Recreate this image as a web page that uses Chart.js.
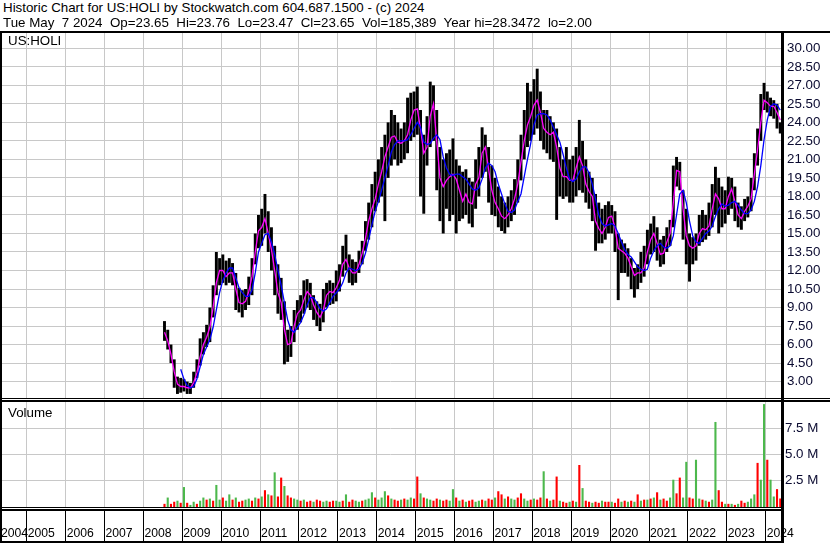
<!DOCTYPE html>
<html><head><meta charset="utf-8">
<script src="https://cdn.jsdelivr.net/npm/chart.js@4.4.1/dist/chart.umd.min.js"></script>
<style>
html,body{margin:0;padding:0;background:#fff;}
#root{position:relative;width:830px;height:543px;overflow:hidden;background:#fff;font-family:"Liberation Sans",Arial,sans-serif;}
.t{position:absolute;white-space:pre;font-size:13.33px;line-height:15px;color:#000;}
.ln{position:absolute;background:#000;}
canvas{position:absolute;left:0;}
</style></head>
<body><div id="root">
<canvas id="pc" width="830" height="365" style="top:33px;width:830px;height:365px"></canvas>
<canvas id="vc" width="830" height="141" style="top:402px;width:830px;height:141px"></canvas>
<div class="t" style="left:3px;top:0px">Historic Chart for US:HOLI by Stockwatch.com 604.687.1500 - (c) 2024</div>
<div class="t" style="left:3px;top:15px">Tue May  7 2024  Op=23.65  Hi=23.76  Lo=23.47  Cl=23.65  Vol=185,389  Year hi=28.3472  lo=2.00</div>
<div class="t" style="left:8px;top:33px">US:HOLI</div>
<div class="t" style="left:8px;top:405px">Volume</div>
<div class="ln" style="left:0;top:31px;width:830px;height:2px"></div>
<div class="ln" style="left:0;top:398px;width:830px;height:1px"></div>
<div class="ln" style="left:0;top:400px;width:830px;height:2px"></div>
<div class="ln" style="left:0;top:507px;width:784px;height:1px"></div>
<div class="ln" style="left:0;top:509px;width:784px;height:2px"></div>
<div class="ln" style="left:0;top:541px;width:784px;height:2px"></div>
<div class="ln" style="left:0;top:31px;width:2px;height:512px"></div>
<div class="ln" style="left:781px;top:31px;width:3px;height:512px"></div>
</div>
<script>
// ---- data (monthly, starting July 2008) ----
const firstYear = 2008, firstMonth = 7;
const priceHigh = [
  7.9, 7.2, 6.0, 4.8, 3.4, 3.3,
  3.2, 3.0, 2.9, 3.8, 4.8, 6.5, 7.0, 7.6, 9.0, 10.8, 13.5, 13.0,
  13.3, 12.8, 13.0, 12.6, 11.8, 10.6, 10.4, 10.5, 11.5, 13.0, 15.0, 16.5,
  17.0, 18.2, 16.8, 15.5, 14.0, 12.5, 11.4, 9.5, 7.2, 7.5, 8.8, 9.6,
  10.0, 11.2, 11.3, 11.0, 10.0, 9.5, 9.3, 10.5, 11.0, 11.2, 11.0, 12.0,
  12.5, 14.0, 14.9, 13.3, 12.9, 12.7, 13.6, 14.4, 16.0, 17.5, 19.0, 20.0,
  21.0, 22.0, 23.0, 24.0, 25.0, 24.6, 24.0, 23.5, 24.0, 26.0, 26.4, 26.5,
  26.9, 25.0, 23.0, 24.5, 27.3, 27.0, 25.0, 22.0, 21.0, 21.5, 21.8, 22.7,
  21.0, 20.5, 20.0, 20.2, 19.5, 19.2, 21.0, 22.0, 23.6, 23.0, 22.0, 20.5,
  19.5, 18.8, 18.0, 17.5, 18.0, 18.5, 19.4, 21.0, 23.0, 25.0, 27.2, 26.5,
  27.5, 28.35, 26.5, 25.0, 25.0, 24.5, 24.0, 23.5, 22.0, 21.0, 22.0, 21.0,
  21.3, 22.0, 24.2, 22.5, 21.0, 20.0, 19.5, 18.2, 17.5, 17.0, 17.3, 17.6,
  17.3, 16.8, 15.0, 14.5, 14.2, 13.8, 13.0, 12.2, 12.5, 13.5, 14.0, 15.3,
  15.8, 16.4, 15.5, 14.5, 14.8, 15.5, 16.1, 20.5, 21.2, 20.8, 18.5, 17.0,
  15.0, 14.7, 15.0, 16.5, 16.9, 16.5, 17.5, 19.0, 20.4, 19.5, 18.8, 18.5,
  19.6, 19.5, 18.8, 17.5, 17.2, 17.8, 18.0, 19.5, 21.5, 23.5, 26.3, 27.2,
  26.5, 26.0, 25.8, 25.5, 24.0
];
const priceLow = [
  6.3, 5.6, 4.5, 2.5, 2.0, 2.1,
  2.2, 2.0, 2.0, 2.5, 3.3, 4.3, 5.2, 5.8, 6.2, 8.2, 10.0, 10.8,
  11.0, 10.8, 11.0, 10.8, 8.8, 8.6, 8.2, 8.8, 9.2, 10.0, 12.5, 13.8,
  14.0, 15.0, 13.5, 12.0, 10.0, 8.5, 8.0, 4.4, 4.6, 5.0, 6.2, 7.2,
  7.8, 8.5, 9.0, 8.8, 8.0, 7.5, 7.1, 7.8, 9.0, 9.2, 9.3, 9.5,
  10.3, 11.5, 12.0, 11.0, 10.8, 11.0, 11.8, 12.5, 13.6, 14.5, 15.5, 16.8,
  17.5, 18.0, 16.0, 19.5, 20.5, 21.0, 20.5, 20.7, 21.0, 21.5, 22.5, 22.8,
  23.0, 18.0, 16.6, 20.5, 22.0, 22.5, 18.5, 16.0, 15.0, 17.0, 16.0, 16.5,
  15.0, 16.0, 16.2, 16.5, 15.8, 15.5, 17.0, 18.0, 19.5, 20.0, 17.5, 16.5,
  16.4, 15.5, 15.2, 15.0, 15.5, 16.0, 16.5, 17.5, 19.3, 21.0, 22.0, 22.5,
  23.0, 23.5, 22.5, 21.8, 21.5, 21.0, 20.8, 16.1, 18.0, 17.8, 18.0, 17.5,
  17.5, 18.0, 18.5, 18.3, 17.5, 17.0, 16.0, 13.6, 14.2, 14.2, 14.5, 15.0,
  15.0, 13.5, 9.6, 11.8, 11.8, 11.5, 10.5, 9.8, 10.5, 11.0, 11.5, 12.5,
  13.3, 13.5, 12.8, 12.3, 12.5, 13.5, 14.0, 15.5, 18.8, 18.5, 14.5, 12.5,
  11.1, 12.5, 12.8, 14.0, 14.3, 14.5, 14.8, 15.5, 16.5, 15.0, 15.5, 15.8,
  16.5, 17.0, 16.0, 15.5, 15.3, 16.0, 16.3, 16.8, 18.5, 20.5, 22.5, 25.0,
  24.8, 24.5, 24.3, 23.5, 23.1
];
const maShort = [
  7.0, 6.3, 5.2, 3.8, 2.8, 2.6,
  2.6, 2.5, 2.5, 2.9, 3.7, 5.0, 6.0, 6.6, 7.4, 9.0, 11.0, 12.0,
  12.0, 11.5, 11.8, 11.8, 10.5, 9.4, 9.3, 9.5, 10.3, 11.5, 13.5, 15.2,
  15.5, 16.2, 15.0, 13.7, 12.0, 10.2, 9.4, 7.2, 6.0, 6.1, 7.5, 8.5,
  8.8, 9.6, 10.3, 10.0, 9.2, 8.6, 8.2, 8.8, 10.0, 10.3, 10.2, 10.6,
  11.2, 12.5, 12.9, 12.2, 11.8, 11.8, 12.5, 13.4, 14.6, 16.0, 17.0, 17.8,
  19.0, 20.0, 21.2, 22.0, 22.8, 22.9, 22.4, 22.3, 22.5, 23.0, 24.2, 25.0,
  25.1, 23.5, 21.5, 22.0, 24.5, 25.5, 22.5, 19.5, 18.8, 19.3, 19.6, 19.8,
  19.4, 18.5, 17.6, 18.2, 17.5, 17.4, 19.0, 19.5, 21.5, 22.0, 20.2, 18.5,
  17.5, 17.0, 16.4, 16.2, 16.5, 17.0, 17.8, 19.0, 20.8, 22.5, 23.8, 24.5,
  25.4, 25.8, 24.8, 23.5, 23.2, 23.0, 23.2, 22.0, 20.3, 19.6, 19.6, 19.3,
  19.3, 20.3, 21.2, 20.5, 19.0, 18.4, 18.0, 16.0, 15.4, 15.0, 15.5, 16.3,
  16.4, 15.5, 13.8, 13.6, 13.4, 13.0, 12.3, 11.6, 11.8, 11.8, 12.2, 13.5,
  14.5, 15.0, 14.2, 13.3, 13.4, 14.3, 15.0, 17.5, 20.1, 20.0, 17.0, 14.8,
  14.0, 13.8, 14.0, 15.0, 15.4, 15.3, 15.6, 17.0, 18.2, 17.8, 17.0, 17.0,
  18.0, 18.6, 17.6, 16.5, 16.2, 16.8, 17.2, 17.8, 19.8, 21.8, 24.0, 25.8,
  25.6, 25.3, 25.3, 24.8, 24.2
];
const maLong = [
  null, null, null, null, null, 4.0,
  3.2, 2.7, 2.5, 2.6, 3.2, 4.2, 5.2, 5.8, 6.4, 7.4, 8.8, 10.2,
  11.2, 11.8, 12.2, 12.2, 11.4, 10.6, 10.2, 9.9, 9.9, 10.4, 11.8, 13.5,
  14.2, 14.9, 15.0, 14.3, 13.3, 12.0, 10.8, 9.4, 8.0, 7.2, 7.0, 7.4,
  7.8, 8.4, 9.2, 9.8, 9.8, 9.4, 8.9, 8.7, 8.9, 9.4, 9.9, 10.2,
  10.5, 11.0, 11.8, 12.2, 12.1, 12.0, 12.1, 12.6, 13.4, 14.5, 15.7, 16.8,
  17.6, 18.5, 19.5, 20.5, 21.6, 22.2, 22.5, 22.5, 22.5, 22.6, 23.0, 23.5,
  24.0, 23.6, 22.4, 22.2, 22.3, 22.7, 23.0, 22.6, 21.2, 20.3, 19.8, 19.7,
  19.8, 19.8, 19.6, 19.4, 19.0, 18.6, 18.5, 18.7, 19.4, 20.3, 20.7, 20.5,
  20.0, 19.0, 18.2, 17.4, 16.8, 16.7, 16.9, 17.6, 18.2, 19.6, 21.0, 22.3,
  23.8, 24.6, 24.7, 24.7, 24.6, 24.2, 23.6, 23.0, 22.4, 21.4, 20.3, 19.4,
  19.2, 19.4, 20.0, 20.4, 20.4, 19.9, 19.0, 17.8, 16.5, 15.8, 15.6, 15.7,
  15.8, 15.6, 15.0, 14.3, 13.7, 13.3, 13.1, 12.7, 12.3, 12.1, 12.0, 12.1,
  13.0, 13.6, 14.0, 14.2, 13.9, 13.8, 14.0, 14.8, 16.5, 18.2, 18.5, 17.5,
  16.0, 14.8, 14.3, 14.2, 14.6, 15.0, 15.2, 15.6, 16.4, 17.0, 17.4, 17.2,
  17.3, 17.5, 17.6, 17.3, 16.9, 16.6, 16.6, 16.9, 17.6, 18.8, 20.5, 22.6,
  24.2, 25.3, 25.5, 25.4, 25.0
];
// volume in millions of shares
const volume = [
  0.3, 0.9, 0.3, 0.5, 0.6, 0.4,
  1.9, 0.4, 0.2, 0.5, 0.3, 0.6, 0.9, 0.7, 0.8, 0.6, 2.1, 0.7,
  0.9, 0.6, 1.2, 0.7, 0.9, 0.5, 0.6, 0.7, 0.8, 0.6, 0.9, 0.8,
  1.0, 1.6, 1.2, 1.1, 3.3, 1.0, 2.8, 2.0, 1.1, 0.9, 0.8, 0.7,
  0.6, 0.7, 0.5, 0.6, 0.5, 0.7, 0.6, 0.5, 0.6, 0.5, 0.6, 0.6,
  0.5, 0.6, 1.2, 0.5, 0.7, 0.6, 0.5, 0.6, 0.7, 0.8, 1.4, 0.9,
  0.7, 0.9, 1.5, 1.1, 0.8, 0.7, 0.6, 0.7, 0.8, 0.7, 0.9, 0.8,
  2.9, 1.3, 0.9, 0.8, 0.7, 0.6, 0.8, 0.7, 0.6, 0.7, 0.6, 1.7,
  0.9, 0.6, 0.7, 0.5, 0.6, 0.7, 0.5, 0.6, 0.7, 0.6, 0.8, 0.7,
  0.9, 1.5, 1.2, 0.8, 1.0, 0.8, 0.7, 0.9, 1.3, 0.8, 0.6, 0.7,
  0.8, 0.7, 0.9, 3.4, 0.8, 0.6, 0.7, 2.9, 0.6, 0.5, 0.4, 0.5,
  0.6, 0.5, 4.0, 1.8, 0.6, 0.5, 0.4, 0.5, 0.4, 0.6, 0.5, 0.5,
  0.5, 0.4, 0.8, 0.5, 0.6, 0.5, 0.6, 0.5, 1.2, 0.6, 0.7, 0.7,
  0.8, 0.9, 1.4, 0.7, 0.8, 0.6, 0.9, 2.6, 1.3, 2.8, 0.9, 4.3,
  0.9, 0.8, 4.5, 0.8, 0.7, 0.6, 0.5, 0.7, 8.1, 1.6, 0.5, 0.3,
  0.3, 0.3, 0.2, 0.3, 0.6, 0.4, 0.5, 0.8, 1.2, 4.2, 2.6, 9.8,
  4.5, 2.6, 1.0, 1.7, 0.8
];
// G = up (green), R = down (red)
const volumeDirection = (
  "RGRRGR" +
  "GRGGRGGRGRGG" + "RGGRGRRGGRGR" + "GRGRGRRGRRGG" + "RGRRGRRGGRRG" +
  "GRGRRGGRGGGR" + "GGGRGRRGRGGR" + "RGRGGRRGRRGG" + "RGRGRRGGRGRR" +
  "GRRGRGGRRGGR" + "GRRGRGRRGRRG" + "RGRGRRGRRGRR" + "GRRGRGRGRGRG" +
  "RGRGRRGGRRGG" + "RRGGRGRGGRRG" + "RGRGRRGGGRGG" + "RGGRR").split("");
const yearTicks = [2005,2006,2007,2008,2009,2010,2011,2012,2013,2014,2015,2016,2017,2018,2019,2020,2021,2022,2023,2024];
const yearLabels = ["2004","2005","2006","2007","2008","2009","2010","2011","2012","2013","2014","2015","2016","2017","2018","2019","2020","2021","2022","2023","2024"];
const priceTicks = [3,4.5,6,7.5,9,10.5,12,13.5,15,16.5,18,19.5,21,22.5,24,25.5,27,28.5,30];
const volumeTicks = [2.5,5,7.5];

// ---- layout constants ----
const X_MIN = 2004.312, X_MAX = 2024.394;
const P_MIN = 1.67, P_MAX = 31.24;
const V_MAX = 10;
const FONT = '"Liberation Sans", Arial, sans-serif';
const GRID = '#c8c8c8';

const monthX = priceHigh.map((_, i) => {
  const m = firstMonth - 1 + i;
  return firstYear + Math.floor(m / 12) + ((m % 12) + 0.5) / 12;
});

Chart.defaults.font.family = FONT;
Chart.defaults.font.size = 13.33;
Chart.defaults.color = '#000';

// light grid drawn from the chart's own scales, plus the black year separators
const panelGrid = {
  id: 'panelGrid',
  beforeDatasetsDraw(chart, args, opts) {
    const { ctx, chartArea: a, scales } = chart;
    ctx.save();
    ctx.lineWidth = 1;
    ctx.strokeStyle = GRID;
    ctx.beginPath();
    yearTicks.forEach(v => {
      const x = Math.round(scales.x.getPixelForValue(v) - 0.5) + 0.5;
      ctx.moveTo(x, a.top); ctx.lineTo(x, a.bottom);
    });
    opts.yTicks.forEach(v => {
      const y = Math.round(scales.y.getPixelForValue(v) - 0.5) + 0.5;
      ctx.moveTo(a.left, y); ctx.lineTo(a.right, y);
    });
    ctx.stroke();
    if (opts.yearRow) {
      ctx.strokeStyle = '#000';
      ctx.beginPath();
      yearTicks.forEach(v => {
        const x = Math.round(scales.x.getPixelForValue(v) - 0.5) + 0.5;
        ctx.moveTo(x, a.bottom + 4); ctx.lineTo(x, a.bottom + 34);
      });
      ctx.stroke();
    }
    ctx.restore();
  }
};

function fixY(w) { return s => { s.width = w; s.paddingTop = 0; s.paddingBottom = 0; }; }
function fixX(h) { return s => { s.height = h; s.paddingLeft = 0; s.paddingRight = 0; }; }

new Chart(document.getElementById('pc'), {
  type: 'bar',
  plugins: [panelGrid],
  data: {
    datasets: [
      { type: 'line', order: 0, data: monthX.map((x, i) => ({ x, y: maLong[i] })),
        borderColor: '#0000ff', borderWidth: 1.3, pointRadius: 0, fill: false, spanGaps: false },
      { type: 'line', order: 1, data: monthX.map((x, i) => ({ x, y: maShort[i] })),
        borderColor: '#ff00ff', borderWidth: 1.3, pointRadius: 0, fill: false },
      { type: 'bar', order: 2, data: monthX.map((x, i) => ({ x, y: [priceLow[i], priceHigh[i]] })),
        backgroundColor: '#000', borderWidth: 0, barPercentage: 0.9, categoryPercentage: 1 }
    ]
  },
  options: {
    responsive: false, animation: false, events: [],
    layout: { padding: 0 },
    plugins: { legend: { display: false }, tooltip: { enabled: false }, panelGrid: { yTicks: priceTicks } },
    scales: {
      x: { type: 'linear', min: X_MIN, max: X_MAX, offset: false,
        grid: { display: false, drawTicks: false },
        border: { display: false },
        ticks: { display: false },
        afterBuildTicks: s => { s.ticks = yearTicks.map(v => ({ value: v })); },
        afterFit: fixX(0) },
      y: { type: 'linear', position: 'right', min: P_MIN, max: P_MAX,
        grid: { display: false, drawTicks: false },
        border: { display: false },
        ticks: { padding: 6, color: '#0a0a30', font: { size: 13.33 }, callback: v => Number(v).toFixed(2) },
        afterBuildTicks: s => { s.ticks = priceTicks.map(v => ({ value: v })); },
        afterFit: fixY(49) }
    }
  }
});

new Chart(document.getElementById('vc'), {
  type: 'bar',
  plugins: [panelGrid],
  data: {
    datasets: [
      { data: monthX.map((x, i) => ({ x, y: volume[i] })),
        backgroundColor: volumeDirection.map(d => d === 'G' ? '#4cb84c' : '#ff0000'),
        borderWidth: 0, barPercentage: 0.65, categoryPercentage: 1 }
    ]
  },
  options: {
    responsive: false, animation: false, events: [],
    layout: { padding: 0 },
    plugins: { legend: { display: false }, tooltip: { enabled: false }, panelGrid: { yTicks: volumeTicks, yearRow: true } },
    scales: {
      x: { type: 'linear', min: X_MIN, max: X_MAX, offset: false,
        grid: { display: false, drawTicks: false },
        border: { display: false },
        ticks: { display: true, autoSkip: false, maxRotation: 0, minRotation: 0, align: 'start',
          labelOffset: 1, padding: 19, color: '#000', font: { size: 12.2 },
          callback: (v, i) => yearLabels[i] },
        afterBuildTicks: s => { s.ticks = [X_MIN].concat(yearTicks).map(v => ({ value: v })); },
        afterFit: fixX(36) },
      y: { type: 'linear', position: 'right', min: 0, max: V_MAX,
        grid: { display: false, drawTicks: false },
        border: { display: false },
        ticks: { padding: 4, color: '#0a0a30', font: { size: 13.33 }, callback: v => Number(v).toFixed(1) + ' M' },
        afterBuildTicks: s => { s.ticks = volumeTicks.map(v => ({ value: v })); },
        afterFit: fixY(49) }
    }
  }
});
</script>
</body></html>
